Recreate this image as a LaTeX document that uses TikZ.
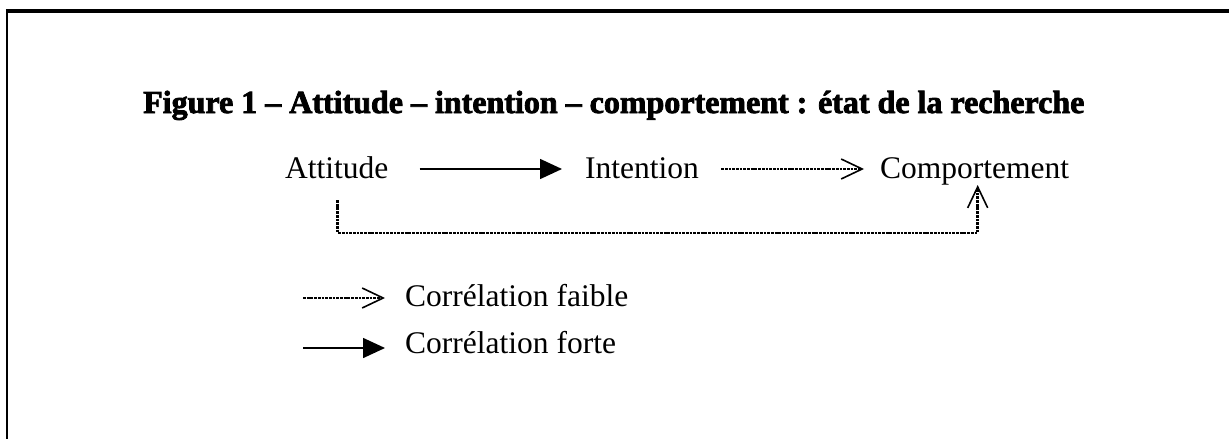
\documentclass[tikz,border=0pt]{standalone}
\usepackage{fontspec}
\setmainfont{Liberation Serif}
\newfontfamily\titlefont[BoldFeatures={FakeBold=2.5}]{Liberation Serif}
\usetikzlibrary{arrows.meta}
\begin{document}
\begin{tikzpicture}[x=1pt,y=-1pt,
  lbl/.style={anchor=base west,inner sep=0pt,font=\fontsize{31.5}{36}\selectfont},
  ttl/.style={anchor=base west,inner sep=0pt,font=\titlefont\bfseries\fontsize{32}{36}\selectfont},
  strong/.style={line width=1.6pt,-{Triangle[length=22pt,width=20pt]}},
  weak/.style={line width=2.7pt,dash pattern=on 2.8pt off 0.9pt,-{Straight Barb[length=21pt,width=20pt,line width=1.6pt]}},
  frame/.style={line width=3.2pt}]
\useasboundingbox (0,0) rectangle (1229,439);
\draw[line width=2.5pt] (7,439) -- (7,11);
\draw[frame] (5.75,11) -- (1229,11);
\node[ttl] (title) at (143,113) {Figure 1 – Attitude – intention – comportement : état de la recherche};
\node[lbl] (att) at (285,178) {Attitude};
\node[lbl] (int) at (585,178) {Intention};
\node[lbl] (comp) at (880,178) {Comportement};
\draw[strong] ([shift={(31,-9)}]att.base east) -- ([shift={(-23,-9)}]int.base west);
\draw[weak] ([shift={(22,-9)}]int.base east) -- ([shift={(-16,-9)}]comp.base west);
\draw[weak] ([shift={(1,22)}]att.base) -- ++(0,33) -| ([shift={(3,7)}]comp.base);
\node[lbl] (faible) at (405,306) {Corrélation faible};
\node[lbl] (forte) at (405,353) {Corrélation forte};
\draw[weak] ([shift={(-102,-8)}]faible.base west) -- ([shift={(-20,-8)}]faible.base west);
\draw[strong] ([shift={(-102,-5)}]forte.base west) -- ([shift={(-20,-5)}]forte.base west);
\end{tikzpicture}
\end{document}
